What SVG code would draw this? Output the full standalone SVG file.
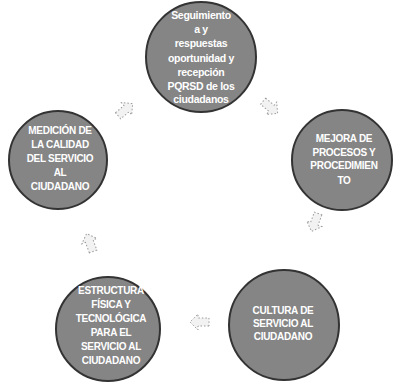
<svg xmlns="http://www.w3.org/2000/svg" width="399" height="386" viewBox="0 0 399 386">
<style>
.node circle{fill:#858585;stroke:#333;stroke-width:2}
.node text{fill:#fff;font-family:"Liberation Sans",Arial,sans-serif;font-weight:bold;font-size:10px;letter-spacing:-0.3px;text-anchor:middle}
.top text{font-size:10.5px}
.arr{fill:#f2f2f2;stroke:#9a9a9a;stroke-width:1;stroke-dasharray:1.5 2}
</style>
<rect width="399" height="386" fill="#fff"/>
<g id="connectors">
<polygon class="arr" points="-9,-4 2,-4 2,-8 10,0 2,8 2,4 -9,4" transform="translate(270,107) rotate(40)"/>
<polygon class="arr" points="-9,-4 2,-4 2,-8 10,0 2,8 2,4 -9,4" transform="translate(315,222) rotate(110)"/>
<polygon class="arr" points="-9,-4 2,-4 2,-8 10,0 2,8 2,4 -9,4" transform="translate(200,322) rotate(180)"/>
<polygon class="arr" points="-9,-4 2,-4 2,-8 10,0 2,8 2,4 -9,4" transform="translate(90,243) rotate(-110)"/>
<polygon class="arr" points="-9,-4 2,-4 2,-8 10,0 2,8 2,4 -9,4" transform="translate(125,110) rotate(-40)"/>
</g>
<g id="n-top" class="node top">
<circle cx="201" cy="57" r="55"/>
<text x="201" y="19">Seguimiento</text>
<text x="201" y="33">a y</text>
<text x="201" y="47">respuestas</text>
<text x="201" y="62">oportunidad y</text>
<text x="201" y="76">recepción</text>
<text x="201" y="90">PQRSD de los</text>
<text x="201" y="103">ciudadanos</text>
</g>
<g id="n-right" class="node">
<circle cx="342" cy="160" r="50"/>
<text x="344" y="142">MEJORA DE</text>
<text x="344" y="156">PROCESOS Y</text>
<text x="344" y="169">PROCEDIMIEN</text>
<text x="344" y="184">TO</text>
</g>
<g id="n-bright" class="node">
<circle cx="284" cy="325" r="55"/>
<text x="283" y="314">CULTURA DE</text>
<text x="283" y="327">SERVICIO AL</text>
<text x="283" y="340">CIUDADANO</text>
</g>
<g id="n-bleft" class="node">
<circle cx="108" cy="329" r="52"/>
<text x="111" y="294">ESTRUCTURA</text>
<text x="111" y="308">FÍSICA Y</text>
<text x="111" y="322">TECNOLÓGICA</text>
<text x="111" y="336">PARA EL</text>
<text x="111" y="350">SERVICIO AL</text>
<text x="111" y="364">CIUDADANO</text>
</g>
<g id="n-left" class="node">
<circle cx="58" cy="160" r="49"/>
<text x="60" y="134">MEDICIÓN DE</text>
<text x="60" y="148">LA CALIDAD</text>
<text x="60" y="162">DEL SERVICIO</text>
<text x="60" y="176">AL</text>
<text x="60" y="190">CIUDADANO</text>
</g>
</svg>
